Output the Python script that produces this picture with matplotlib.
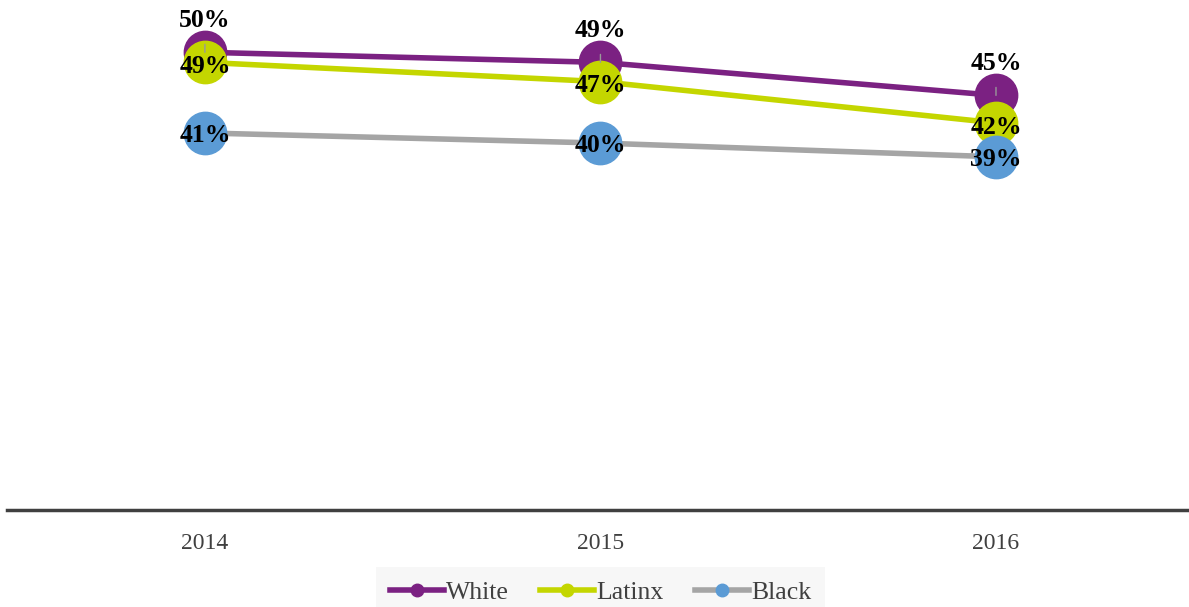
import matplotlib
matplotlib.use("Agg")
import matplotlib.pyplot as plt
from matplotlib.lines import Line2D

# data (share of students, %)
years = ["2014", "2015", "2016"]
white = [49.9, 48.8, 45.2]
latinx = [48.8, 46.7, 42.2]
black = [41.1, 40.0, 38.5]
white_lbl = ["50%", "49%", "45%"]
latinx_lbl = ["49%", "47%", "42%"]
black_lbl = ["41%", "40%", "39%"]

purple = "#7B2182"
lime = "#C4D600"
grey = "#A5A5A5"
blue = "#5B9BD5"

plt.rcParams['font.family'] = ['Liberation Serif', 'DejaVu Serif']

fig = plt.figure(figsize=(11.89, 6.07), dpi=100)
ax = fig.add_axes([0.006, 0.16, 0.998, 0.84])
x = range(len(years))

ms = 30.5
ax.plot(x, white, color=purple, lw=4, marker='o', ms=ms, mfc=purple, mec=purple,
        clip_on=False, zorder=3, solid_capstyle='butt')
ax.plot(x, latinx, color=lime, lw=4, marker='o', ms=ms, mfc=lime, mec=lime,
        clip_on=False, zorder=4, solid_capstyle='butt')
ax.plot(x, black, color=grey, lw=4, marker='o', ms=ms, mfc=blue, mec=blue,
        clip_on=False, zorder=5, solid_capstyle='butt')

lbl_kw = dict(ha='center', va='center', fontsize=18.5, fontweight='bold', color='black')
for i in x:
    ax.annotate(white_lbl[i], xy=(i, white[i]), xytext=(0, 23), textcoords='offset points',
                arrowprops=dict(arrowstyle='-', color='#999999', lw=1, shrinkA=7, shrinkB=0),
                zorder=6, annotation_clip=False, **lbl_kw)
    ax.annotate(latinx_lbl[i], xy=(i, latinx[i]), xytext=(0, -3), textcoords='offset points',
                zorder=7, annotation_clip=False, **lbl_kw)
    ax.annotate(black_lbl[i], xy=(i, black[i]), xytext=(0, -2), textcoords='offset points',
                zorder=8, annotation_clip=False, **lbl_kw)

ax.set_xlim(-0.5, 2.5)
ax.set_ylim(0, 55.6)
ax.set_xticks(list(x))
ax.set_xticklabels(years, fontsize=17, color='#404040')
ax.tick_params(axis='x', length=0, pad=17)
ax.set_yticks([])
for s in ['top', 'right', 'left']:
    ax.spines[s].set_visible(False)
ax.spines['bottom'].set_color('#404040')
ax.spines['bottom'].set_linewidth(2.5)

handles = [
    Line2D([0], [0], color=purple, lw=4, marker='o', ms=9, mfc=purple, mec=purple),
    Line2D([0], [0], color=lime, lw=4, marker='o', ms=9, mfc=lime, mec=lime),
    Line2D([0], [0], color=grey, lw=4, marker='o', ms=9, mfc=blue, mec=blue),
]
leg = fig.legend(handles, ["White", "Latinx", "Black"], loc='lower center',
                 bbox_to_anchor=(0.505, -0.04), ncol=3, frameon=True, fancybox=False,
                 facecolor='#F7F7F7', edgecolor='none', fontsize=18.5, handlelength=2.1,
                 handletextpad=0.1, columnspacing=1.2, borderpad=0.55)
for t in leg.get_texts():
    t.set_color('#404040')
leg.get_frame().set_alpha(1)

fig.savefig("out.png", dpi=100)
